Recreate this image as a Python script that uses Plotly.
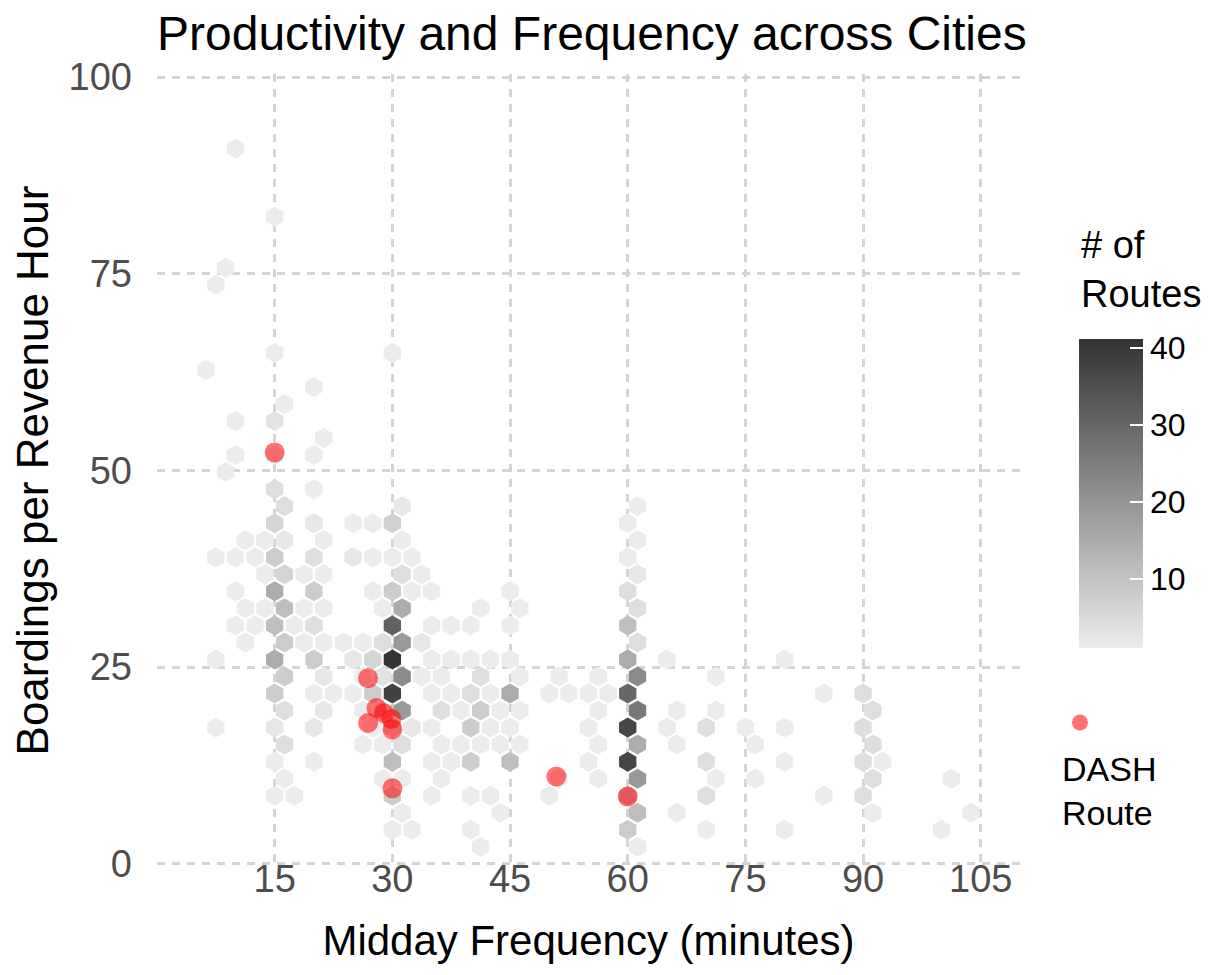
import plotly.graph_objects as go

# ---- data (hexbin cells: centre frequency, centre boardings, # of routes)
hex_freq = [
    10,
    15,
    8.75,
    7.5,
    15, 30,
    6.25,
    20,
    16.25,
    10, 15,
    21.25,
    10, 15, 20,
    8.75,
    15, 20,
    16.25, 31.25, 61.25,
    15, 20, 25, 27.5, 30, 60,
    11.25, 13.75, 16.25, 21.25, 31.25, 61.25,
    7.5, 10, 12.5, 15, 20, 25, 27.5, 30, 32.5, 60,
    13.75, 16.25, 18.75, 21.25, 31.25, 33.75, 61.25,
    10, 15, 20, 27.5, 30, 32.5, 35, 45, 60,
    11.25, 13.75, 16.25, 18.75, 21.25, 28.75, 31.25, 41.25, 46.25, 61.25,
    10, 12.5, 15, 17.5, 20, 30, 35, 37.5, 40, 45, 60,
    11.25, 16.25, 18.75, 21.25, 23.75, 26.25, 28.75, 31.25, 33.75, 61.25,
    7.5, 15, 20, 25, 27.5, 30, 35, 37.5, 40, 42.5, 45, 60, 65, 80,
    16.25, 21.25, 26.25, 28.75, 31.25, 33.75, 36.25, 41.25, 46.25, 51.25, 56.25, 61.25, 71.25,
    15, 20, 22.5, 25, 27.5, 30, 35, 37.5, 40, 42.5, 45, 50, 52.5, 55, 57.5, 60, 85, 90,
    16.25, 21.25, 26.25, 28.75, 31.25, 36.25, 38.75, 41.25, 43.75, 46.25, 56.25, 61.25, 66.25, 71.25, 91.25,
    7.5, 15, 20, 27.5, 30, 32.5, 35, 40, 42.5, 45, 55, 60, 65, 70, 75, 80, 90,
    16.25, 26.25, 28.75, 31.25, 36.25, 38.75, 41.25, 43.75, 46.25, 56.25, 61.25, 66.25, 76.25, 91.25,
    15, 20, 30, 35, 37.5, 40, 45, 55, 60, 70, 80, 90, 92.5,
    16.25, 28.75, 31.25, 36.25, 51.25, 56.25, 61.25, 71.25, 76.25, 91.25, 101.25,
    15, 17.5, 30, 35, 40, 42.5, 50, 60, 70, 85, 90,
    31.25, 43.75, 61.25, 66.25, 91.25, 103.75,
    30, 32.5, 40, 60, 70, 80, 100,
    41.25, 61.25,
]

hex_boardings = (
    [90.93] * 1 + [82.27] * 1 + [75.78] * 1 + [73.61] * 1 + [64.95] * 2 + [62.79] * 1
    + [60.62] * 1 + [58.46] * 1 + [56.29] * 2 + [54.13] * 1 + [51.96] * 3 + [49.80] * 1
    + [47.63] * 2 + [45.47] * 3 + [43.30] * 6 + [41.14] * 6 + [38.97] * 10 + [36.81] * 7
    + [34.64] * 9 + [32.48] * 10 + [30.31] * 11 + [28.15] * 10 + [25.98] * 14 + [23.82] * 13
    + [21.65] * 18 + [19.49] * 15 + [17.32] * 17 + [15.16] * 14 + [12.99] * 13 + [10.83] * 11
    + [8.66] * 11 + [6.50] * 6 + [4.33] * 7 + [2.17] * 2
)

hex_routes = [
    1,
    1,
    1,
    1,
    1, 1,
    1,
    1,
    1,
    1, 3,
    1,
    1, 1, 1,
    1,
    4, 1,
    4, 2, 1,
    6, 2, 1, 1, 7, 1,
    1, 1, 2, 1, 1, 1,
    1, 1, 1, 8, 4, 2, 1, 1, 1, 1,
    1, 6, 1, 1, 4, 1, 2,
    1, 15, 8, 1, 8, 1, 1, 1, 4,
    1, 1, 11, 1, 1, 1, 15, 1, 1, 4,
    1, 1, 11, 1, 4, 31, 1, 1, 1, 1, 11,
    1, 8, 1, 1, 1, 1, 4, 19, 2, 4,
    1, 15, 8, 2, 6, 41, 1, 1, 1, 1, 1, 15, 1, 1,
    8, 2, 1, 3, 22, 1, 1, 4, 1, 1, 1, 22, 1,
    8, 1, 1, 1, 8, 38, 1, 1, 4, 1, 15, 1, 1, 1, 1, 30, 1, 4,
    4, 2, 1, 3, 19, 4, 1, 8, 1, 1, 1, 26, 1, 1, 4,
    1, 2, 2, 1, 5, 2, 1, 8, 1, 1, 1, 37, 1, 4, 1, 1, 4,
    4, 1, 1, 4, 1, 1, 1, 1, 1, 1, 15, 1, 1, 4,
    1, 1, 11, 1, 1, 8, 11, 1, 37, 4, 1, 4, 1,
    1, 1, 1, 1, 1, 1, 19, 1, 1, 4, 1,
    1, 1, 8, 1, 1, 1, 1, 10, 4, 1, 4,
    1, 1, 11, 1, 1, 1,
    1, 1, 1, 8, 1, 1, 1,
    1, 1,
]

dash_freq = [15.0, 26.9, 27.97, 28.94, 26.9, 29.88, 30.0, 30.0, 50.9, 60.0]
dash_boardings = [52.3, 23.6, 19.8, 19.15, 17.9, 18.4, 17.1, 9.6, 11.1, 8.55]

x_ticks = [15, 30, 45, 60, 75, 90, 105]
y_ticks = [0, 25, 50, 75, 100]
cbar_ticks = [10, 20, 30, 40]

FONT = "Liberation Sans, Arial, sans-serif"
GRID = "#d4d4d4"

fig = go.Figure()

fig.add_trace(go.Scatter(
    x=hex_freq, y=hex_boardings, mode="markers", showlegend=False,
    hovertemplate="freq %{x}<br>boardings %{y}<br>routes %{marker.color}<extra></extra>",
    marker=dict(
        symbol="hexagon", size=20, color=hex_routes,
        colorscale=[[0, "#ececec"], [1, "#333333"]], cmin=1, cmax=41.2,
        line=dict(width=0),
        colorbar=dict(
            x=1.0684, xanchor="left", xpad=0,
            y=0.6658, yanchor="top", ypad=0,
            lenmode="pixels", len=309, thickness=64,
            outlinewidth=0,
            tickvals=cbar_ticks, ticks="inside", ticklen=13, tickwidth=2, tickcolor="white",
            tickfont=dict(family=FONT, size=32, color="black"),
        ),
    ),
))

fig.add_trace(go.Scatter(
    x=dash_freq, y=dash_boardings, mode="markers", name=" ",
    marker=dict(size=20, color="rgba(255,0,0,0.55)", line=dict(width=0)),
    hovertemplate="DASH route<br>%{x}, %{y}<extra></extra>",
))

fig.update_layout(
    width=1204, height=967,
    margin=dict(l=149, r=192, t=66, b=108),
    paper_bgcolor="white", plot_bgcolor="white",
    font=dict(family=FONT, color="black"),
    title=dict(
        text="Productivity and Frequency across Cities",
        font=dict(family=FONT, size=48, color="black"),
        x=0, xref="paper", xanchor="left",
        y=1 - 8 / 967, yref="container", yanchor="top",
    ),
    xaxis=dict(
        range=[0, 110], tickvals=x_ticks, showline=False, zeroline=False,
        showgrid=True, gridcolor=GRID, gridwidth=2.5, griddash="8px,7px",
        ticks="", ticklabelstandoff=-14,
        tickfont=dict(family=FONT, size=38, color="#4d4d4d"),
        title=dict(text="Midday Frequency (minutes)", standoff=26,
                   font=dict(family=FONT, size=42, color="black")),
    ),
    yaxis=dict(
        range=[-0.4, 100.4], tickvals=y_ticks, showline=False, zeroline=False,
        showgrid=True, gridcolor=GRID, gridwidth=2.5, griddash="8px,7px",
        ticks="", ticklabelstandoff=24,
        tickfont=dict(family=FONT, size=38, color="#4d4d4d"),
        title=dict(text="Boardings per Revenue Hour", standoff=9,
                   font=dict(family=FONT, size=44, color="black")),
    ),
    legend=dict(
        x=1.0463, xanchor="left", y=0.2068, yanchor="top",
        font=dict(family=FONT, size=20), bgcolor="rgba(0,0,0,0)",
        itemsizing="trace",
    ),
    annotations=[
        dict(text="# of<br>Routes", xref="paper", yref="paper",
             x=1.0684, xanchor="left", y=(867 - 222) / 793, yanchor="top",
             align="left", showarrow=False,
             font=dict(family=FONT, size=38, color="black")),
        dict(text="DASH<br>Route", xref="paper", yref="paper",
             x=(1060 - 157) / 863, xanchor="left", y=(867 - 748) / 793, yanchor="top",
             align="left", showarrow=False,
             font=dict(family=FONT, size=34, color="black")),
    ],
)

fig.write_html("out.html")
